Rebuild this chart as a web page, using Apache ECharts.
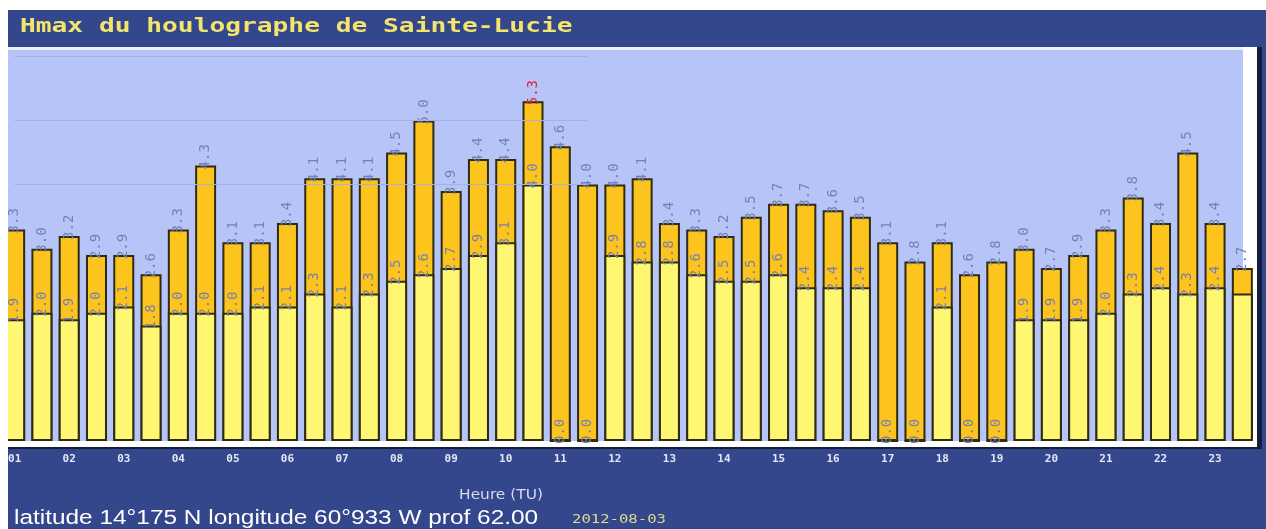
<!DOCTYPE html>
<html>
<head>
<meta charset="utf-8">
<script src="https://cdn.jsdelivr.net/npm/echarts@6/dist/echarts.min.js"></script>
<style>
  html, body { margin: 0; padding: 0; background: #ffffff; }
  .frame {
    position: absolute;
    left: 8px;
    top: 10px;
    width: 1258px;
    height: 519px;
    overflow: hidden;
  }
  #chart {
    position: absolute;
    left: -16px;
    top: 0;
    width: 1274px;
    height: 519px;
  }
</style>
</head>
<body>
<div class="frame"><div id="chart"></div></div>
<script>
// half-hour records, 01:00 -> 23:30 (TU)
const times = [
  '01:00', '01:30', '02:00', '02:30', '03:00', '03:30', '04:00', '04:30',
  '05:00', '05:30', '06:00', '06:30', '07:00', '07:30', '08:00', '08:30',
  '09:00', '09:30', '10:00', '10:30', '11:00', '11:30', '12:00', '12:30',
  '13:00', '13:30', '14:00', '14:30', '15:00', '15:30', '16:00', '16:30',
  '17:00', '17:30', '18:00', '18:30', '19:00', '19:30', '20:00', '20:30',
  '21:00', '21:30', '22:00', '22:30', '23:00', '23:30'
]
// Hmax (m)
const hmax = [
  3.3, 3.0, 3.2, 2.9, 2.9, 2.6, 3.3, 4.3, 3.1, 3.1, 3.4, 4.1,
  4.1, 4.1, 4.5, 5.0, 3.9, 4.4, 4.4, 5.3, 4.6, 4.0, 4.0, 4.1,
  3.4, 3.3, 3.2, 3.5, 3.7, 3.7, 3.6, 3.5, 3.1, 2.8, 3.1, 2.6,
  2.8, 3.0, 2.7, 2.9, 3.3, 3.8, 3.4, 4.5, 3.4, 2.7
]
// H1/3 (m)
const h13 = [
  1.9, 2.0, 1.9, 2.0, 2.1, 1.8, 2.0, 2.0, 2.0, 2.1, 2.1, 2.3,
  2.1, 2.3, 2.5, 2.6, 2.7, 2.9, 3.1, 4.0, 0.0, 0.0, 2.9, 2.8,
  2.8, 2.6, 2.5, 2.5, 2.6, 2.4, 2.4, 2.4, 0.0, 0.0, 2.1, 0.0,
  0.0, 1.9, 1.9, 1.9, 2.0, 2.3, 2.4, 2.3, 2.4, 2.3
]
// H1/3 bars drawn without a value label
const h13NoLabel = ['23:30']
// faint reference lines (m)
const refLines = [4, 5, 6]

const chart = echarts.init(document.getElementById('chart'))

const maxIdx = hmax.indexOf(Math.max(...hmax))
const fmt = p => Number(p.value).toFixed(1)

const barLabel = {
  show: true,
  position: 'top',
  rotate: 90,
  align: 'left',
  verticalAlign: 'middle',
  distance: -4,
  formatter: fmt,
  color: '#7780b2',
  fontFamily: 'DejaVu Sans Mono',
  fontSize: 14
}

const hmaxData = hmax.map((v, i) => i === maxIdx
  ? { value: v, label: { color: '#e8202a' } }
  : v)

const h13Data = h13.map((v, i) => h13NoLabel.includes(times[i])
  ? { value: v, label: { show: false } }
  : v)

const option = {
  backgroundColor: '#34468c',
  animation: false,
  grid: {
    left: 9,
    right: 10,
    top: 40,
    bottom: 88,
    show: true,
    backgroundColor: '#b6c4f7',
    borderWidth: 0
  },
  xAxis: {
    type: 'category',
    data: times,
    axisLine: { show: false },
    axisTick: { show: false },
    axisLabel: {
      interval: 1,
      margin: 13,
      formatter: v => v.slice(0, 2),
      color: '#e4e7f4',
      fontFamily: 'DejaVu Sans Mono',
      fontWeight: 'bold',
      fontSize: 11
    }
  },
  yAxis: {
    type: 'value',
    min: 0,
    max: 6.1,
    show: false
  },
  graphic: [
    // white frame around the plot
    { type: 'rect', z: 1, shape: { x: 0, y: 37, width: 1265, height: 3 }, style: { fill: '#eef0fb' } },
    { type: 'rect', z: 1, shape: { x: 1251, y: 37, width: 14, height: 400 }, style: { fill: '#ffffff' } },
    { type: 'rect', z: 1, shape: { x: 0, y: 431, width: 1265, height: 6 }, style: { fill: '#ffffff' } },
    { type: 'rect', z: 1, shape: { x: 1265, y: 37, width: 5, height: 402 }, style: { fill: '#141c40' } },
    { type: 'rect', z: 1, shape: { x: 0, y: 437, width: 1270, height: 2 }, style: { fill: '#141c40' } },
    {
      type: 'text', x: 28, y: 17, scaleX: 1.38,
      style: {
        text: 'Hmax du houlographe de Sainte-Lucie',
        fill: '#f2e46c',
        font: 'bold 19px "DejaVu Sans Mono"',
        verticalAlign: 'middle'
      }
    },
    {
      type: 'text', x: 509, y: 485, scaleX: 1.1,
      style: {
        text: 'Heure (TU)',
        fill: '#d6dbf0',
        font: '14px "DejaVu Sans"',
        align: 'center',
        verticalAlign: 'middle'
      }
    },
    {
      type: 'text', x: 22, y: 508, scaleX: 1.22,
      style: {
        text: 'latitude 14°175 N longitude 60°933 W prof 62.00',
        fill: '#ffffff',
        font: '20px "Liberation Sans"',
        verticalAlign: 'middle'
      }
    },
    {
      type: 'text', x: 580, y: 510, scaleX: 1.3,
      style: {
        text: '2012-08-03',
        fill: '#dcdc8c',
        font: '12px "DejaVu Sans Mono"',
        verticalAlign: 'middle'
      }
    }
  ],
  series: [
    {
      type: 'line',
      data: [],
      z: 1,
      silent: true,
      markLine: {
        silent: true,
        symbol: 'none',
        label: { show: false },
        lineStyle: { color: '#a3b1e4', width: 1, type: 'solid' },
        data: refLines.map(v => [
          { coord: [times[0], v] },
          { coord: [times[21], v] }
        ])
      }
    },
    {
      name: 'Hmax',
      type: 'bar',
      data: hmaxData,
      barWidth: 21,
      barGap: '-100%',
      z: 2,
      itemStyle: {
        color: '#fcc41c',
        borderColor: '#2e2c14',
        borderWidth: 2
      },
      label: barLabel
    },
    {
      name: 'H1/3',
      type: 'bar',
      data: h13Data,
      barWidth: 21,
      barGap: '-100%',
      z: 3,
      itemStyle: {
        color: '#fff772',
        borderColor: '#2e2c14',
        borderWidth: 2
      },
      label: barLabel
    }
  ]
}

chart.setOption(option)
</script>
</body>
</html>
